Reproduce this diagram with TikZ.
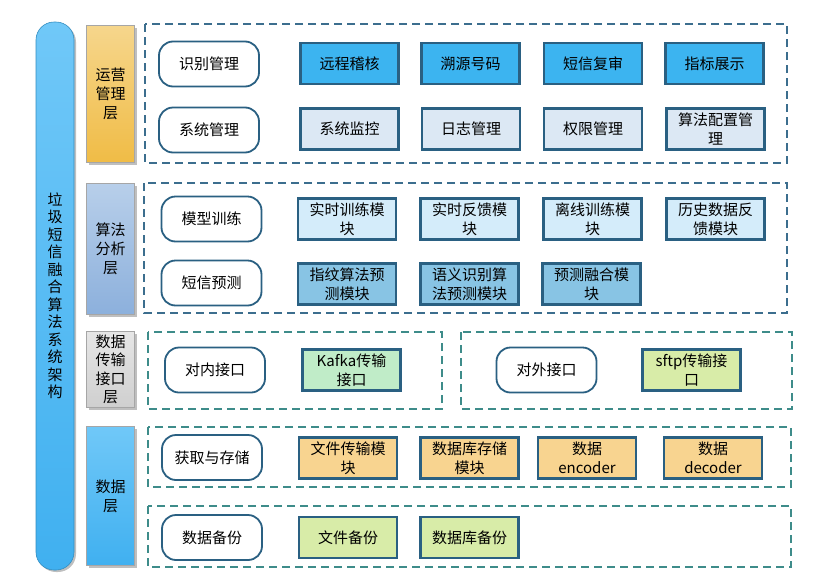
\documentclass[tikz,border=0pt]{standalone}
\usepackage{fontspec}
\setmainfont{Noto Sans CJK SC}
\usetikzlibrary{shadows}

\definecolor{edgeblue}{HTML}{2A6082}
\definecolor{dashblue}{HTML}{3C6E8E}
\definecolor{dashteal}{HTML}{3E8C8A}
\definecolor{skytop}{HTML}{70C8F8}
\definecolor{skybot}{HTML}{40B0F0}
\definecolor{opstop}{HTML}{F6D68C}
\definecolor{opsbot}{HTML}{F0BC46}
\definecolor{algtop}{HTML}{B8CFEA}
\definecolor{algbot}{HTML}{8CB0DC}
\definecolor{trtop}{HTML}{E6E6E6}
\definecolor{trbot}{HTML}{CFCFCF}
\definecolor{hotblue}{HTML}{3CB4F0}
\definecolor{paleblue}{HTML}{DCE8F4}
\definecolor{iceblue}{HTML}{D4ECFA}
\definecolor{midblue}{HTML}{88C4E4}
\definecolor{mintgreen}{HTML}{C0ECC8}
\definecolor{limegreen}{HTML}{D8ECA8}
\definecolor{sandorange}{HTML}{F8D490}

\begin{document}
\begin{tikzpicture}[x=1pt, y=-1pt,
    txt/.style={font=\fontsize{15}{19}\selectfont, align=center, text=black},
    shade/.style={drop shadow={shadow xshift=2pt, shadow yshift=-2pt, fill=black, opacity=0.25}},
    layer/.style={txt, shade, draw=gray!70, line width=0.6pt, minimum width=48pt, inner sep=1pt},
    rbox/.style={txt, draw=edgeblue, line width=1.8pt, rounded corners=14pt, fill=white, minimum width=100pt, minimum height=45pt},
    mbox/.style={txt, draw=edgeblue, line width=2.6pt, minimum width=98pt, minimum height=41pt, inner sep=1pt},
    group/.style={dash pattern=on 8pt off 5pt, line width=1.4pt}]
    \useasboundingbox (0,0) rectangle (814,584);

    % title bar
    \node[shade, draw=skybot!80!black, line width=0.6pt, rounded corners=18pt, top color=skytop, bottom color=skybot,
        minimum width=38pt, minimum height=548pt, font=\fontsize{15}{17.5}\selectfont, align=center, inner sep=0pt] (title) at (55,296)
        {垃\\圾\\短\\信\\融\\合\\算\\法\\系\\统\\架\\构};

    % layers
    \node[layer, top color=opstop, bottom color=opsbot, minimum height=137pt] (opl) at (110.5,94) {运营\\管理\\层};
    \node[layer, top color=algtop, bottom color=algbot, minimum height=131pt] (algl) at (110.5,249) {算法\\分析\\层};
    \node[layer, top color=trtop, bottom color=trbot, minimum height=76pt, font=\fontsize{15}{18.5}\selectfont] (trl) at (110.5,369.5) {数据\\传输\\接口\\层};
    \node[layer, top color=skytop, bottom color=skybot, minimum height=139pt] (datl) at (110.5,496) {数据\\层};

    % dashed groups
    \draw[group, dashblue] (145,24) rectangle (787,163);
    \draw[group, dashblue] (144,183) rectangle (787,313);
    \draw[group, dashteal] (148,332) rectangle (442,409);
    \draw[group, dashteal] (461,332) rectangle (792,409);
    \draw[group, dashteal] (148,427) rectangle (791,487);
    \draw[group, dashteal] (148,506) rectangle (791,567);

    % operations
    \node[rbox] (idm) at (209,64) {识别管理};
    \node[rbox] (sysm) at (209,130) {系统管理};
    \node[mbox, fill=hotblue] (audit) at (349.5,63.5) {远程稽核};
    \node[mbox, fill=hotblue] (trace) at (470.5,63.5) {溯源号码};
    \node[mbox, fill=hotblue] (review) at (593,63.5) {短信复审};
    \node[mbox, fill=hotblue] (kpi) at (714.5,63.5) {指标展示};
    \node[mbox, fill=paleblue] (monitor) at (349.5,129) {系统监控};
    \node[mbox, fill=paleblue] (logm) at (471,129) {日志管理};
    \node[mbox, fill=paleblue] (auth) at (593,129) {权限管理};
    \node[mbox, fill=paleblue, anchor=north] (algcfg) at (715.5,107) {算法配置管\\理};

    % algorithms
    \node[rbox] (mtrain) at (211.5,219) {模型训练};
    \node[rbox] (smspred) at (211.5,283) {短信预测};
    \node[mbox, fill=iceblue] (rtrain) at (347,219) {实时训练模\\块};
    \node[mbox, fill=iceblue] (rfeed) at (469.5,219) {实时反馈模\\块};
    \node[mbox, fill=iceblue] (otrain) at (592.5,219) {离线训练模\\块};
    \node[mbox, fill=iceblue] (hfeed) at (715.5,219) {历史数据反\\馈模块};
    \node[mbox, fill=midblue] (fpred) at (347,284) {指纹算法预\\测模块};
    \node[mbox, fill=midblue] (spred) at (469.5,284) {语义识别算\\法预测模块};
    \node[mbox, fill=midblue] (fuse) at (591.5,284) {预测融合模\\块};

    % transport
    \node[rbox] (inner) at (215,370) {对内接口};
    \node[rbox] (outer) at (546.5,370) {对外接口};
    \node[mbox, fill=mintgreen] (kafka) at (351.5,370) {Kafka传输\\接口};
    \node[mbox, fill=limegreen] (sftp) at (691.5,370) {sftp传输接\\口};

    % data
    \node[rbox] (acq) at (212,457.5) {获取与存储};
    \node[rbox] (bak) at (212,537.5) {数据备份};
    \node[mbox, fill=sandorange] (ftrans) at (348,458) {文件传输模\\块};
    \node[mbox, fill=sandorange] (dbstore) at (469.5,458) {数据库存储\\模块};
    \node[mbox, fill=sandorange] (enc) at (587,458) {数据\\encoder};
    \node[mbox, fill=sandorange] (dec) at (713,458) {数据\\decoder};
    \node[mbox, fill=limegreen] (fbak) at (348,537.5) {文件备份};
    \node[mbox, fill=limegreen] (dbbak) at (469.5,537.5) {数据库备份};
\end{tikzpicture}
\end{document}
